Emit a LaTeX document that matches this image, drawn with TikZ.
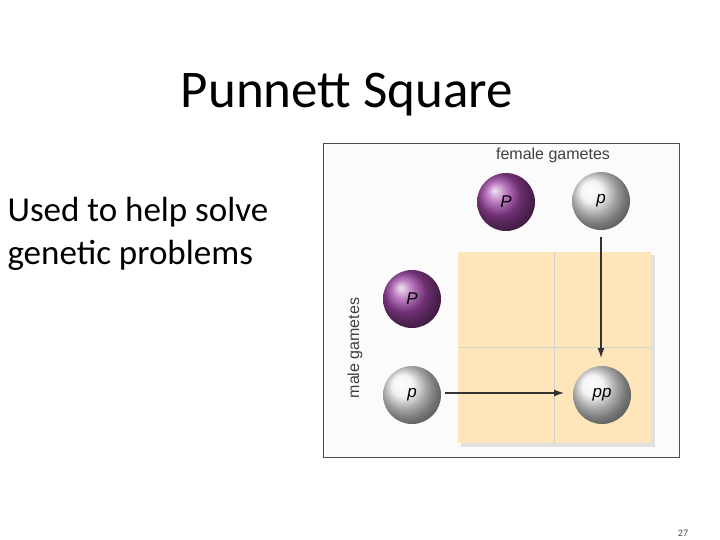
\documentclass[tikz,border=0pt]{standalone}
\usepackage{fontspec}
\usetikzlibrary{arrows.meta}
\setmainfont{Carlito}
\newfontfamily\arial{Liberation Sans}
\definecolor{peach}{RGB}{254,229,186}
\definecolor{plum}{RGB}{160,70,165}
\begin{document}
\begin{tikzpicture}[x=1pt,y=-1pt,
  gball/.style={circle,minimum size=58pt,inner sep=0pt,shading=ball,font=\arial\itshape\fontsize{17}{17}\selectfont},
  arr/.style={draw=black!80,line width=1.3pt,-{Latex[length=10pt,width=7pt]}}]
\useasboundingbox (0,0) rectangle (720,540);
\node[font=\fontsize{53}{53}\selectfont] (title) at (347,95) {Punnett Square};
\node[anchor=west,align=left,font=\fontsize{35}{43}\selectfont] (txt) at (4,234) {Used to help solve\\genetic problems};
\node[draw=black!70,line width=0.8pt,minimum width=356pt,minimum height=314pt,inner sep=0pt,fill=gray!3] (frame) at (501,300) {};
\fill[black!12] (461,255) rectangle (655,447);
\fill[peach] (458,252) rectangle (651,443);
\draw[gray!35,line width=1pt] (554,252) -- (554,443) (458,347) -- (651,347);
\node[font=\arial\fontsize{16}{16}\selectfont,text=black!75] (fg) at (553,155) {female gametes};
\node[font=\arial\fontsize{16}{16}\selectfont,text=black!75,rotate=90] (mg) at (355,348) {male gametes};
\node[gball,ball color=plum] (P1) at (506,202) {P};
\node[gball,ball color=gray!12] (p1) at (601,201) {p};
\node[gball,ball color=plum] (P2) at (412,299) {P};
\node[gball,ball color=gray!12] (p2) at (412,395) {p};
\node[gball,ball color=gray!12] (pp) at (602,395) {pp};
\coordinate (vstart) at (601,237);
\coordinate (vend) at (601,358);
\coordinate (hstart) at (445,393);
\coordinate (hend) at (564,393);
\draw[arr] (vstart) -- (vend);
\draw[arr] (hstart) -- (hend);
\node[font=\fontsize{10}{10}\selectfont,text=black!70] (num) at (683,533) {27};
\end{tikzpicture}
\end{document}
